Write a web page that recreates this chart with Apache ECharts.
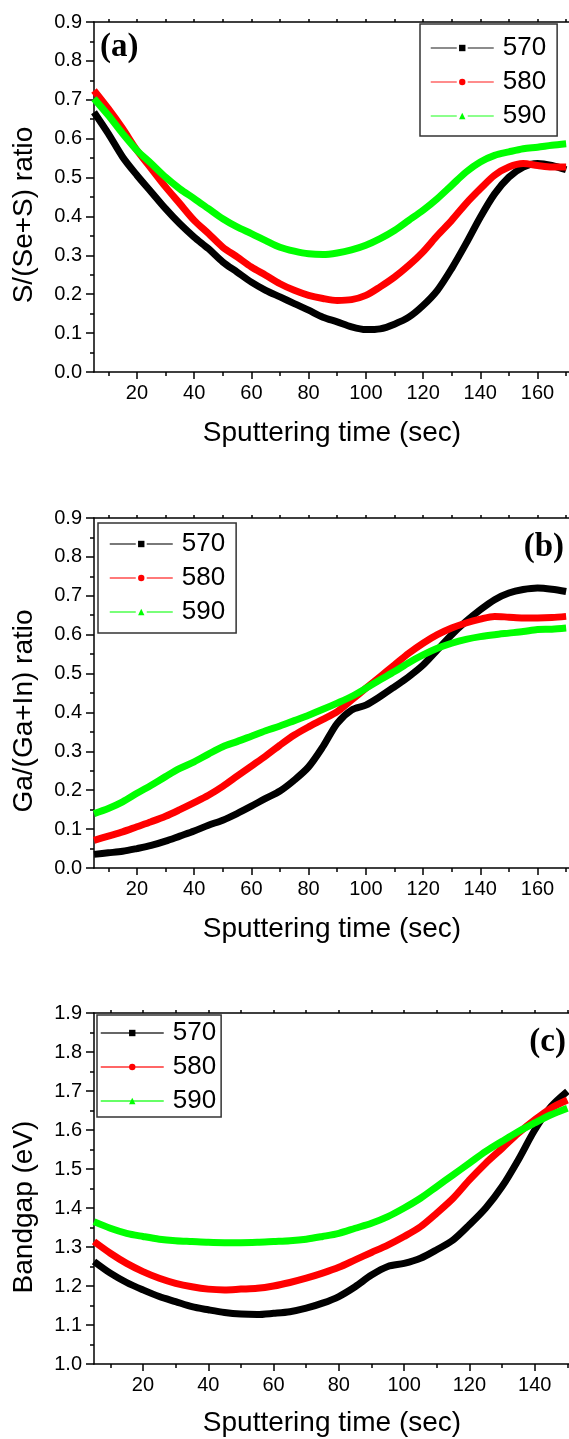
<!DOCTYPE html>
<html>
<head>
<meta charset="utf-8">
<script src="https://cdn.jsdelivr.net/npm/echarts@6/dist/echarts.min.js"></script>
<style>
  html, body { margin: 0; padding: 0; background: #fff; }
  #chart { width: 569px; height: 1439px; }
</style>
</head>
<body>
<div id="chart"></div>
<script>
// sputtering time (sec) for panels (a), (b) and (c)
const timeAB = [5, 10, 15, 20, 25, 30, 35, 40, 45, 50, 55, 60, 65, 70, 75, 80, 85, 90, 95, 100,
  105, 110, 115, 120, 125, 130, 135, 140, 145, 150, 155, 160, 165, 170];
const timeC = [5, 10, 15, 20, 25, 30, 35, 40, 45, 50, 55, 60, 65, 70, 75, 80, 85, 90, 95, 100,
  105, 110, 115, 120, 125, 130, 135, 140, 145, 150];

const seriesNames = ['570', '580', '590'];

// (a) S/(Se+S) ratio
const ratioS570 = [0.668, 0.613, 0.553, 0.506, 0.463, 0.42, 0.381, 0.347, 0.317, 0.283, 0.257, 0.231, 0.21, 0.193,
  0.176, 0.159, 0.141, 0.129, 0.116, 0.109, 0.111, 0.123, 0.141, 0.171, 0.21, 0.266, 0.33, 0.398, 0.458, 0.501,
  0.527, 0.536, 0.531, 0.52];
const ratioS580 = [0.724, 0.677, 0.626, 0.57, 0.523, 0.476, 0.433, 0.39, 0.356, 0.321, 0.296, 0.27, 0.249, 0.227,
  0.21, 0.197, 0.189, 0.184, 0.186, 0.197, 0.219, 0.244, 0.274, 0.309, 0.351, 0.39, 0.433, 0.471, 0.506, 0.527,
  0.536, 0.531, 0.527, 0.527];
const ratioS590 = [0.703, 0.66, 0.613, 0.57, 0.536, 0.501, 0.471, 0.446, 0.42, 0.394, 0.373, 0.356, 0.338, 0.321,
  0.311, 0.304, 0.302, 0.306, 0.314, 0.326, 0.343, 0.364, 0.39, 0.416, 0.446, 0.48, 0.514, 0.54, 0.557, 0.566,
  0.574, 0.578, 0.583, 0.587];

// (b) Ga/(Ga+In) ratio
const ratioGa570 = [0.035, 0.039, 0.043, 0.05, 0.058, 0.069, 0.082, 0.095, 0.11, 0.123, 0.14, 0.159, 0.179, 0.198,
  0.226, 0.26, 0.312, 0.372, 0.406, 0.419, 0.441, 0.466, 0.492, 0.522, 0.561, 0.6, 0.634, 0.664, 0.69, 0.707,
  0.716, 0.72, 0.717, 0.711];
const ratioGa580 = [0.071, 0.082, 0.093, 0.106, 0.119, 0.133, 0.15, 0.168, 0.187, 0.21, 0.236, 0.262, 0.288, 0.316,
  0.342, 0.363, 0.382, 0.402, 0.432, 0.462, 0.492, 0.522, 0.552, 0.578, 0.6, 0.617, 0.63, 0.64, 0.647, 0.645,
  0.643, 0.643, 0.644, 0.647];
const ratioGa590 = [0.14, 0.153, 0.17, 0.192, 0.213, 0.235, 0.256, 0.273, 0.293, 0.312, 0.325, 0.339, 0.353, 0.365,
  0.379, 0.393, 0.408, 0.424, 0.441, 0.462, 0.484, 0.505, 0.528, 0.548, 0.565, 0.578, 0.588, 0.595, 0.6, 0.604,
  0.608, 0.613, 0.614, 0.617];

// (c) Bandgap (eV)
const bandgap570 = [1.263, 1.233, 1.209, 1.19, 1.173, 1.16, 1.147, 1.139, 1.132, 1.128, 1.127, 1.13, 1.134, 1.143,
  1.156, 1.173, 1.198, 1.228, 1.25, 1.258, 1.271, 1.293, 1.318, 1.357, 1.4, 1.455, 1.524, 1.6, 1.66, 1.699];
const bandgap580 = [1.314, 1.284, 1.258, 1.237, 1.22, 1.207, 1.198, 1.192, 1.19, 1.192, 1.194, 1.2, 1.209, 1.22,
  1.233, 1.248, 1.267, 1.286, 1.305, 1.327, 1.352, 1.387, 1.425, 1.472, 1.515, 1.553, 1.592, 1.626, 1.656, 1.677];
const bandgap590 = [1.365, 1.348, 1.335, 1.327, 1.32, 1.316, 1.314, 1.312, 1.311, 1.311, 1.312, 1.314, 1.316, 1.32,
  1.327, 1.335, 1.348, 1.361, 1.378, 1.4, 1.425, 1.455, 1.485, 1.515, 1.545, 1.571, 1.596, 1.618, 1.639, 1.656];

// tick labels
const xTicksAB = [20, 40, 60, 80, 100, 120, 140, 160];
const xMinorAB = [10, 30, 50, 70, 90, 110, 130, 150, 170];
const xTicksC = [20, 40, 60, 80, 100, 120, 140];
const xMinorC = [10, 30, 50, 70, 90, 110, 130, 150];

const chart = echarts.init(document.getElementById('chart'));

const FONT = 'Liberation Sans, Arial, sans-serif';
const colors = ['#000000', '#ff0000', '#00ff00'];
const symbols = ['rect', 'circle', 'triangle'];

const panels = [
  { top: 22, height: 350, xMax: 171, yMin: 0, yMax: 0.9, ticks: xTicksAB, minor: xMinorAB },
  { top: 518, height: 350, xMax: 171, yMin: 0, yMax: 0.9, ticks: xTicksAB, minor: xMinorAB },
  { top: 1013, height: 351, xMax: 150.5, yMin: 1.0, yMax: 1.9, ticks: xTicksC, minor: xMinorC }
];

const grid = [];
const xAxis = [];
const yAxis = [];
panels.forEach((p, i) => {
  grid.push({ left: 94, top: p.top, width: 475, height: p.height });
  const lineStyle = { color: '#000', width: 1.5 };
  // main bottom axis
  xAxis.push({
    type: 'value', gridIndex: i, position: 'bottom', min: 5, max: p.xMax,
    axisLine: { show: true, onZero: false, lineStyle },
    axisTick: { show: true, inside: false, length: 7, customValues: p.ticks, lineStyle },
    axisLabel: { show: true, margin: 11, customValues: p.ticks, color: '#000', fontSize: 20, fontFamily: FONT },
    splitLine: { show: false }
  });
  // minor ticks on bottom axis
  xAxis.push({
    type: 'value', gridIndex: i, position: 'bottom', min: 5, max: p.xMax,
    axisLine: { show: false },
    axisTick: { show: true, length: 4, customValues: p.minor, lineStyle },
    axisLabel: { show: false },
    splitLine: { show: false }
  });
  // top frame
  xAxis.push({
    type: 'value', gridIndex: i, position: 'top', min: 5, max: p.xMax,
    axisLine: { show: true, onZero: false, lineStyle },
    axisTick: { show: true, length: 3, customValues: p.ticks.concat(p.minor), lineStyle },
    axisLabel: { show: false },
    splitLine: { show: false }
  });
  yAxis.push({
    type: 'value', gridIndex: i, min: p.yMin, max: p.yMax, interval: 0.1,
    axisLine: { show: true, onZero: false, lineStyle },
    axisTick: { show: true, length: 8, lineStyle },
    minorTick: { show: true, splitNumber: 2, length: 4, lineStyle },
    axisLabel: {
      margin: 12, color: '#000', fontSize: 20, fontFamily: FONT,
      formatter: v => v.toFixed(1)
    },
    splitLine: { show: false }
  });
});

const panelData = [
  [ratioS570, ratioS580, ratioS590],
  [ratioGa570, ratioGa580, ratioGa590],
  [bandgap570, bandgap580, bandgap590]
];
const panelTime = [timeAB, timeAB, timeC];

const series = [];
panelData.forEach((group, i) => {
  group.forEach((vals, k) => {
    series.push({
      name: seriesNames[k],
      type: 'line',
      xAxisIndex: i * 3,
      yAxisIndex: i,
      data: panelTime[i].map((t, j) => [t, vals[j]]),
      symbol: symbols[k],
      showSymbol: false,
      smooth: 0.3,
      lineStyle: { color: colors[k], width: 7 },
      itemStyle: { color: colors[k] },
      emphasis: { disabled: true }
    });
  });
});

const legendBase = {
  orient: 'vertical',
  itemWidth: 63,
  itemHeight: 8,
  itemGap: 8,
  borderColor: '#333',
  borderWidth: 1.5,
  borderRadius: 0,
  textStyle: { color: '#000', fontSize: 26, fontFamily: FONT, padding: [0, 0, 0, 4] },
  data: seriesNames
};

const legend = [
  Object.assign({}, legendBase, {
    left: 420, top: 24, padding: [11, 11, 7, 10],
    lineStyle: { width: 1.5, type: [26, 11], opacity: 0.6 }
  }),
  Object.assign({}, legendBase, {
    left: 98, top: 523, padding: [8, 11, 8, 11],
    lineStyle: { width: 1.5, type: [26, 11], opacity: 0.7 }
  }),
  Object.assign({}, legendBase, {
    left: 97, top: 1015, padding: [5, 5, 3, 3],
    lineStyle: { width: 1.5, type: 'solid', opacity: 0.8 }
  })
];

const titleFont = '28px ' + FONT;
const labelFont = 'bold 33px Liberation Serif, Times New Roman, serif';
const graphic = [
  { type: 'text', x: 24, y: 215, rotation: Math.PI / 2,
    style: { text: 'S/(Se+S) ratio', font: titleFont, fill: '#000', align: 'center', verticalAlign: 'middle' } },
  { type: 'text', x: 24, y: 711, rotation: Math.PI / 2,
    style: { text: 'Ga/(Ga+In) ratio', font: titleFont, fill: '#000', align: 'center', verticalAlign: 'middle' } },
  { type: 'text', x: 24, y: 1207, rotation: Math.PI / 2,
    style: { text: 'Bandgap (eV)', font: titleFont, fill: '#000', align: 'center', verticalAlign: 'middle' } },
  { type: 'text', x: 332, y: 433,
    style: { text: 'Sputtering time (sec)', font: titleFont, fill: '#000', align: 'center', verticalAlign: 'middle' } },
  { type: 'text', x: 332, y: 929,
    style: { text: 'Sputtering time (sec)', font: titleFont, fill: '#000', align: 'center', verticalAlign: 'middle' } },
  { type: 'text', x: 332, y: 1423,
    style: { text: 'Sputtering time (sec)', font: titleFont, fill: '#000', align: 'center', verticalAlign: 'middle' } },
  { type: 'text', x: 100, y: 47,
    style: { text: '(a)', font: labelFont, fill: '#000', align: 'left', verticalAlign: 'middle' } },
  { type: 'text', x: 564, y: 547,
    style: { text: '(b)', font: labelFont, fill: '#000', align: 'right', verticalAlign: 'middle' } },
  { type: 'text', x: 566, y: 1042,
    style: { text: '(c)', font: labelFont, fill: '#000', align: 'right', verticalAlign: 'middle' } }
];

chart.setOption({
  animation: false,
  backgroundColor: '#fff',
  grid,
  xAxis,
  yAxis,
  legend,
  series,
  graphic
});
</script>
</body>
</html>
